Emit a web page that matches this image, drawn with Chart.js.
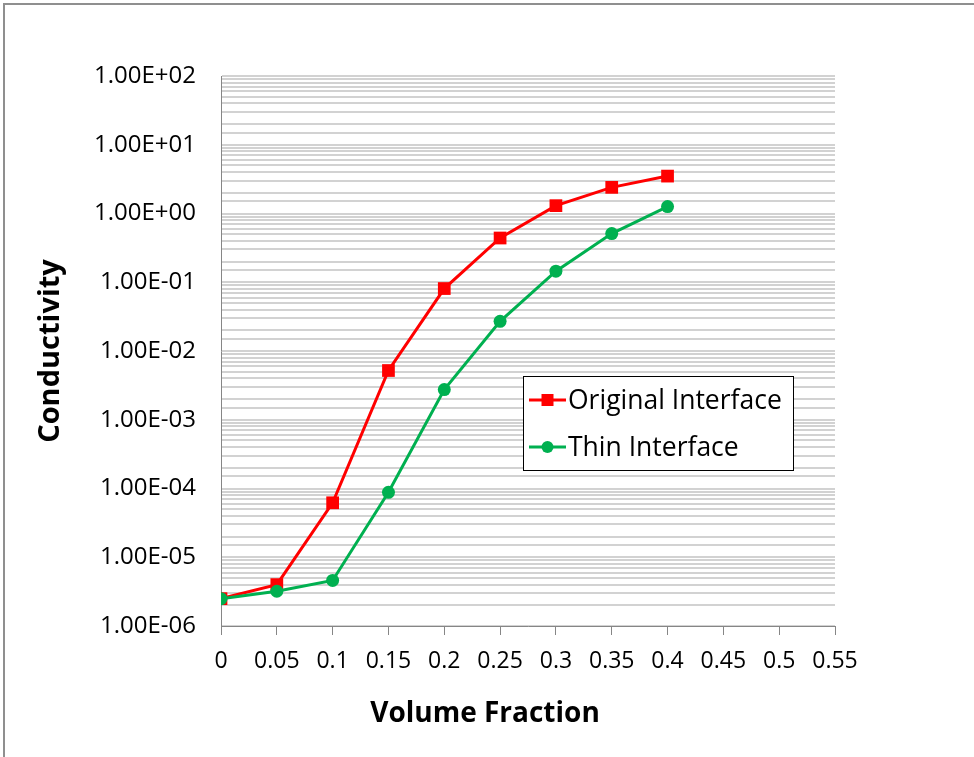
<!DOCTYPE html>
<html lang="en">
<head>
    <meta charset="UTF-8">
    <title>Conductivity vs Volume Fraction</title>
    <script src="https://cdn.jsdelivr.net/npm/chart.js"></script>
    <style>
        html, body {
            margin: 0;
            padding: 0;
            background: #ffffff;
        }
        #frame {
            position: absolute;
            left: 3px;
            top: 3px;
            width: 971px;
            height: 754px;
            border-top: 2px solid #8f8f8f;
            border-left: 2px solid #8f8f8f;
            box-sizing: border-box;
        }
        #chartBox {
            position: absolute;
            left: 0;
            top: 0;
            width: 974px;
            height: 757px;
        }
    </style>
</head>
<body>
    <div id="frame"></div>
    <div id="chartBox">
        <canvas id="condChart" width="974" height="757"></canvas>
    </div>

    <script>
        // values
        const volumeFraction = [0, 0.05, 0.1, 0.15, 0.2, 0.25, 0.3, 0.35, 0.4];
        const originalInterface = [2.5e-6, 4.0e-6, 6.2e-5, 5.2e-3, 8.1e-2, 0.44, 1.3, 2.4, 3.5];
        const thinInterface = [2.5e-6, 3.2e-6, 4.6e-6, 8.8e-5, 2.75e-3, 2.7e-2, 0.145, 0.51, 1.26];
        const seriesNames = ['Original Interface', 'Thin Interface'];
        const xTitle = 'Volume Fraction';
        const yTitle = 'Conductivity';

        const xMin = 0, xMax = 0.55, xStep = 0.05;
        const yMin = 1e-6, yMax = 100;

        const redColor = '#ff0000';
        const greenColor = '#00b050';
        const gridColor = '#d2d2d2';
        const axisColor = '#868686';

        // Excel style "1.00E+02" labels, only on the decades
        function sciLabel(v) {
            const e = Math.log10(v);
            const r = Math.round(e);
            if (Math.abs(e - r) > 1e-6) return '';
            const sign = r < 0 ? '-' : '+';
            const pow = String(Math.abs(r)).padStart(2, '0');
            return '1.00E' + sign + pow;
        }

        // legend box inside the plot area + the x axis title (it sits left of the plot centre)
        const insideLegend = {
            id: 'insideLegend',
            afterDatasetsDraw(chart) {
                const c = chart.ctx;
                const box = { x: 523.5, y: 376.5, w: 270, h: 94 };
                c.save();
                c.fillStyle = '#ffffff';
                c.fillRect(box.x, box.y, box.w, box.h);
                c.strokeStyle = '#000000';
                c.lineWidth = 1;
                c.strokeRect(box.x, box.y, box.w, box.h);

                const rows = [400, 447];
                chart.data.datasets.slice().sort((a, b) => a.legendIndex - b.legendIndex).forEach((ds, i) => {
                    const y = rows[i];
                    c.strokeStyle = ds.borderColor;
                    c.lineWidth = 3;
                    c.beginPath();
                    c.moveTo(529, y);
                    c.lineTo(566, y);
                    c.stroke();
                    c.fillStyle = ds.pointBackgroundColor;
                    c.beginPath();
                    if (ds.pointStyle === 'rect') {
                        c.rect(547.5 - 6, y - 6, 12, 12);
                    } else {
                        c.arc(547.5, y, 6, 0, Math.PI * 2);
                    }
                    c.fill();

                    c.fillStyle = '#000000';
                    c.font = '26.5px "Open Sans"';
                    c.textBaseline = 'middle';
                    c.textAlign = 'left';
                    c.fillText(ds.label, 568, y + 1);
                });

                c.font = 'bold 28px "Open Sans"';
                c.textAlign = 'center';
                c.textBaseline = 'middle';
                c.fillStyle = '#000000';
                c.fillText(xTitle, 485, 714);
                c.restore();
            }
        };

        const ctx = document.getElementById('condChart').getContext('2d');

        const chart = new Chart(ctx, {
            type: 'line',
            data: {
                datasets: [{
                    label: seriesNames[0],
                    legendIndex: 0,
                    order: 1,
                    data: volumeFraction.map((x, i) => ({ x: x, y: originalInterface[i] })),
                    borderColor: redColor,
                    backgroundColor: redColor,
                    pointBackgroundColor: redColor,
                    pointBorderColor: redColor,
                    borderWidth: 3,
                    pointStyle: 'rect',
                    pointRadius: 9,
                    pointBorderWidth: 0,
                    tension: 0,
                    fill: false
                }, {
                    label: seriesNames[1],
                    legendIndex: 1,
                    order: 0,
                    data: volumeFraction.map((x, i) => ({ x: x, y: thinInterface[i] })),
                    borderColor: greenColor,
                    backgroundColor: greenColor,
                    pointBackgroundColor: greenColor,
                    pointBorderColor: greenColor,
                    borderWidth: 3,
                    pointStyle: 'circle',
                    pointRadius: 6.5,
                    pointBorderWidth: 0,
                    tension: 0,
                    fill: false
                }]
            },
            options: {
                responsive: false,
                animation: false,
                devicePixelRatio: 1,
                layout: {
                    padding: { left: 0, top: 76, right: 139, bottom: 0 }
                },
                plugins: {
                    legend: { display: false },
                    tooltip: { enabled: false }
                },
                scales: {
                    x: {
                        type: 'linear',
                        min: xMin,
                        max: xMax,
                        afterFit(scale) { scale.height = 131; },
                        afterBuildTicks(scale) {
                            const t = [];
                            for (let i = 0; i <= Math.round((xMax - xMin) / xStep); i++) {
                                t.push({ value: +(xMin + i * xStep).toFixed(2) });
                            }
                            scale.ticks = t;
                        },
                        border: { display: true, color: axisColor, width: 1 },
                        grid: {
                            drawOnChartArea: false,
                            drawTicks: true,
                            tickLength: 9,
                            color: axisColor
                        },
                        ticks: {
                            autoSkip: false,
                            maxRotation: 0,
                            padding: 13,
                            color: '#000000',
                            font: { family: 'Open Sans', size: 23 },
                            callback: v => String(parseFloat(Number(v).toFixed(2)))
                        },
                        title: { display: false }
                    },
                    y: {
                        type: 'logarithmic',
                        min: yMin,
                        max: yMax,
                        afterFit(scale) { scale.width = 221; },
                        border: { display: true, color: axisColor, width: 1 },
                        grid: {
                            drawTicks: false,
                            color: gridColor,
                            lineWidth: 2
                        },
                        ticks: {
                            autoSkip: false,
                            padding: 25,
                            color: '#000000',
                            font: { family: 'Open Sans', size: 24 },
                            callback: v => sciLabel(v)
                        },
                        title: {
                            display: true,
                            text: yTitle,
                            color: '#000000',
                            font: { family: 'Open Sans', size: 29, weight: 'bold' },
                            padding: { top: 33, bottom: 0 }
                        }
                    }
                }
            },
            plugins: [insideLegend]
        });
    </script>
</body>
</html>
